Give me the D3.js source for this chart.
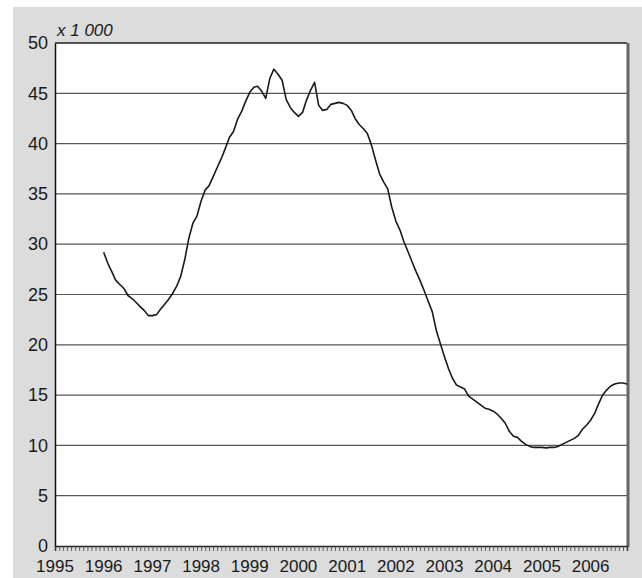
<!DOCTYPE html>
<html>
<head>
<meta charset="utf-8">
<script src="https://cdn.jsdelivr.net/npm/d3@7"></script>
<style>
  body { margin: 0; background: #fff; }
  text { font-family: "Liberation Sans", Arial, sans-serif; fill: #1a1a1a; }
</style>
</head>
<body>
<div id="chart"></div>
<script>
// monthly values (x 1 000), starting January 1996
var firstMonth = "1996-01-01";
var values = [
  29.2, 28.1, 27.3, 26.4, 26.0, 25.6, 24.9, 24.6, 24.2, 23.8, 23.4, 22.9,
  22.9, 23.0, 23.5, 24.0, 24.5, 25.1, 25.8, 26.8, 28.5, 30.6, 32.1, 32.8,
  34.3, 35.4, 35.8, 36.7, 37.6, 38.5, 39.5, 40.6, 41.2, 42.4, 43.2, 44.2,
  45.1, 45.6, 45.7, 45.2, 44.5, 46.5, 47.4, 46.9, 46.3, 44.4, 43.6, 43.1,
  42.7, 43.1, 44.3, 45.3, 46.1, 43.8, 43.3, 43.4, 43.9, 44.0, 44.1, 44.0,
  43.8, 43.3, 42.5, 41.9, 41.5, 41.0, 39.9, 38.4, 37.0, 36.2, 35.5, 33.7,
  32.3, 31.4, 30.3, 29.3, 28.3, 27.3, 26.4, 25.4, 24.3, 23.3, 21.4, 20.1,
  18.8, 17.6, 16.7, 16.0, 15.8, 15.6, 14.9, 14.6, 14.3, 14.0, 13.7, 13.6,
  13.4, 13.1, 12.7, 12.2, 11.4, 10.9, 10.8, 10.4, 10.1, 9.9, 9.8, 9.8,
  9.8, 9.75, 9.8, 9.8, 9.9, 10.1, 10.3, 10.5, 10.7, 11.0, 11.6, 12.0,
  12.5, 13.2, 14.1, 15.0, 15.5, 15.9, 16.1, 16.2, 16.2, 16.1
];
var yearLabels = [1995, 1996, 1997, 1998, 1999, 2000, 2001, 2002, 2003, 2004, 2005, 2006];
var yTicks = [0, 5, 10, 15, 20, 25, 30, 35, 40, 45, 50];
var unitLabel = "x 1 000";

var svgWidth = 642;
var svgHeight = 578;
var margin = { top: 43, right: 15, bottom: 32, left: 55 };
var width = svgWidth - margin.left - margin.right;
var height = svgHeight - margin.top - margin.bottom;

var svg = d3.select("#chart").append("svg")
    .attr("width", svgWidth)
    .attr("height", svgHeight);

// grey panel
svg.append("rect")
    .attr("x", 13).attr("y", 7)
    .attr("width", svgWidth - 13).attr("height", svgHeight - 7)
    .attr("fill", "#dcdcdc");

var chartGroup = svg.append("g")
    .attr("transform", `translate(${margin.left}, ${margin.top})`);

var parse = d3.timeParse("%Y-%m-%d");
var start = parse(firstMonth);
var data = values.map((v, i) => ({ date: d3.timeMonth.offset(start, i), value: v }));

var xScale = d3.scaleTime()
    .domain([new Date(yearLabels[0], 0, 1), new Date(2006, 9, 1)])
    .range([0, width]);

var yScale = d3.scaleLinear()
    .domain([0, 50])
    .range([height, 0]);

// plot background
chartGroup.append("rect")
    .attr("width", width).attr("height", height)
    .attr("fill", "#fff");

// grid lines
chartGroup.selectAll(".grid")
    .data(yTicks.filter(d => d > 0 && d < 50))
    .enter().append("line")
    .attr("x1", 0).attr("x2", width)
    .attr("y1", d => yScale(d)).attr("y2", d => yScale(d))
    .attr("stroke", "#555")
    .attr("stroke-width", 1.2);

// borders
chartGroup.append("line")
    .attr("x1", 0).attr("x2", width).attr("y1", 0).attr("y2", 0)
    .attr("stroke", "#222").attr("stroke-width", 1.5);
chartGroup.append("line")
    .attr("x1", width + 1).attr("x2", width + 1).attr("y1", 0).attr("y2", height + 1)
    .attr("stroke", "#666").attr("stroke-width", 3);

// x axis: monthly minor ticks
var monthTicks = d3.timeMonth.range(xScale.domain()[0], d3.timeDay.offset(xScale.domain()[1], 1));
var xAxis = d3.axisBottom(xScale)
    .tickValues(monthTicks)
    .tickSize(5)
    .tickFormat("");
var xg = chartGroup.append("g")
    .attr("transform", `translate(0, ${height})`)
    .call(xAxis);
xg.select(".domain").attr("stroke", "#222").attr("stroke-width", 1.5);
xg.selectAll(".tick line").attr("stroke", "#444").attr("stroke-width", 0.8);

chartGroup.selectAll(".yearLabel")
    .data(yearLabels)
    .enter().append("text")
    .attr("x", d => xScale(new Date(d, 0, 1)))
    .attr("y", height + 26)
    .attr("text-anchor", "middle")
    .style("font-size", "17px")
    .text(d => d);

// y axis
var yAxis = d3.axisLeft(yScale).tickValues(yTicks).tickSize(0).tickPadding(7);
var yg = chartGroup.append("g").call(yAxis);
yg.select(".domain").attr("stroke", "#111").attr("stroke-width", 1.5);
yg.selectAll("text")
    .style("font-size", "18px")
    .style("font-family", "'Liberation Sans', Arial, sans-serif")
    .attr("fill", "#1a1a1a");

chartGroup.append("text")
    .attr("x", 2)
    .attr("y", -7)
    .style("font-size", "17px")
    .style("font-style", "italic")
    .text(unitLabel);

// the line
var line = d3.line()
    .x(d => xScale(d.date))
    .y(d => yScale(d.value));

chartGroup.append("path")
    .datum(data)
    .attr("d", line)
    .attr("fill", "none")
    .attr("stroke", "#1a1a1a")
    .attr("stroke-width", 1.6)
    .attr("stroke-linejoin", "round");
</script>
</body>
</html>
